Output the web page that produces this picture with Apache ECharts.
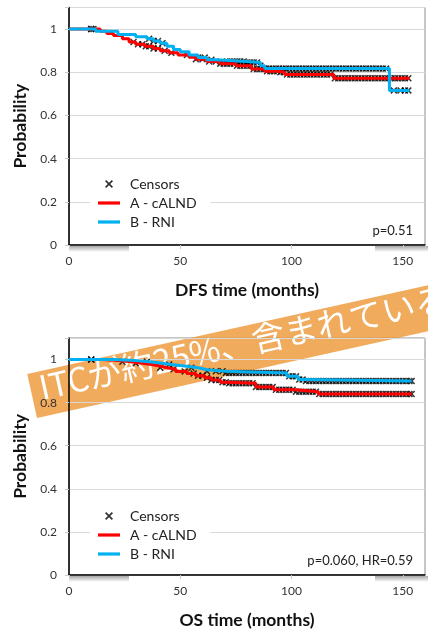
<!DOCTYPE html>
<html>
<head>
<meta charset="utf-8">
<script src="https://cdn.jsdelivr.net/npm/echarts@6/dist/echarts.min.js"></script>
<style>
html, body { margin: 0; padding: 0; background: #fff; }
#chart { width: 428px; height: 632px; }
</style>
</head>
<body>
<div id="chart"></div>
<script>
// tick labels
const xTicks = [0, 50, 100, 150];
const yTicks = [0, 0.2, 0.4, 0.6, 0.8, 1];
const legendNames = ['Censors', 'A - cALND', 'B - RNI'];
const xTitles = ['DFS time (months)', 'OS time (months)'];
const pTexts = ['p=0.51', 'p=0.060, HR=0.59'];
const bannerText = 'ITCが約25%、含まれている';

// Kaplan-Meier steps: [month, survival after drop]
const dfsA = [[0, 1], [14, 0.99], [17, 0.98], [20, 0.97], [24, 0.955], [27, 0.94], [30, 0.93], [34, 0.92], [38, 0.91], [41, 0.9], [45, 0.89], [49, 0.88], [54, 0.87], [57, 0.86], [62, 0.85], [68, 0.84], [75, 0.83], [82, 0.815], [88, 0.805], [94, 0.8], [97, 0.79], [119, 0.772], [153, 0.772]];
const dfsB = [[0, 1], [12, 0.99], [22, 0.975], [30, 0.965], [35, 0.955], [38, 0.945], [41, 0.935], [44, 0.92], [47, 0.905], [50, 0.895], [54, 0.88], [58, 0.868], [62, 0.858], [66, 0.85], [80, 0.845], [86, 0.83], [88, 0.817], [144, 0.716], [153, 0.716]];
const osA = [[0, 1], [15, 0.995], [22, 0.99], [28, 0.983], [33, 0.977], [37, 0.97], [41, 0.962], [44, 0.955], [48, 0.945], [53, 0.935], [57, 0.925], [61, 0.915], [64, 0.905], [68, 0.895], [71, 0.89], [84, 0.872], [92, 0.86], [102, 0.851], [112, 0.84], [154, 0.84]];
const osB = [[0, 1], [20, 0.995], [30, 0.99], [36, 0.985], [40, 0.977], [46, 0.97], [52, 0.962], [58, 0.953], [62, 0.946], [70, 0.938], [98, 0.922], [103, 0.907], [106, 0.9], [154, 0.9]];

// censored times (months)
const dfsCensA = [10, 29, 31, 33, 34.5, 36, 38, 40, 43, 46, 53, 57, 60, 63, 66, 68, 69.5, 71, 72.5, 74, 75.5, 77, 78.5, 80, 81.5, 83, 84.5, 86, 87.5, 89, 90.5, 92, 93.5, 95, 96.5, 98, 99.5, 101, 102.5, 104, 105.5, 107, 108.5, 110, 111.5, 113, 114.5, 116, 117.5, 119.5, 121, 122.5, 124, 125.5, 127, 128.5, 130, 131.5, 133, 134.5, 136, 137.5, 139, 140.5, 142, 143.5, 145, 146.5, 148, 149.5, 151, 152.5];
const dfsCensB = [10, 11, 36, 38, 40, 42, 58, 61, 64, 71, 72.5, 74, 75.5, 77, 78.5, 80, 81.5, 83, 84.5, 86, 88.5, 90, 91.5, 93, 94.5, 96, 97.5, 99, 100.5, 102, 103.5, 105, 106.5, 108, 109.5, 111, 112.5, 114, 115.5, 117, 118.5, 120, 121.5, 123, 124.5, 126, 127.5, 129, 130.5, 132, 133.5, 135, 136.5, 138, 139.5, 141, 142.5, 146, 149, 151, 152.5];
const osCensA = [10, 24, 30, 41, 47, 52, 56, 58, 60, 62, 64, 66, 67.5, 69, 70.5, 72, 73.5, 75, 76.5, 78, 79.5, 81, 82.5, 84, 85.5, 87, 88.5, 90, 91.5, 93, 94.5, 96, 97.5, 99, 100.5, 102, 103.5, 105, 106.5, 108, 109.5, 111, 112.5, 114, 115.5, 117, 118.5, 120, 121.5, 123, 124.5, 126, 127.5, 129, 130.5, 132, 133.5, 135, 136.5, 138, 139.5, 141, 142.5, 144, 145.5, 147, 148.5, 150, 151.5, 153, 154];
const osCensB = [10, 35, 45, 55, 62, 66, 69, 70.5, 72, 73.5, 75, 76.5, 78, 79.5, 81, 82.5, 84, 85.5, 87, 88.5, 90, 91.5, 93, 94.5, 96, 97.5, 99, 100.5, 102, 103.5, 105, 106.5, 108, 109.5, 111, 112.5, 114, 115.5, 117, 118.5, 120, 121.5, 123, 124.5, 126, 127.5, 129, 130.5, 132, 133.5, 135, 136.5, 138, 139.5, 141, 142.5, 144, 145.5, 147, 148.5, 150, 151.5, 153, 154];

const cross = 'path://M0,1.5L1.5,0L5,3.5L8.5,0L10,1.5L6.5,5L10,8.5L8.5,10L5,6.5L1.5,10L0,8.5L3.5,5Z';
const lineIcon = 'path://M0,0H22V3.2H0Z';
const redC = '#ff0000';
const blueC = '#00b0f0';
const font = 'Lato, "Open Sans", sans-serif';

function survAt(curve, t) {
  let s = curve[0][1];
  for (const p of curve) { if (p[0] <= t) s = p[1]; }
  return s;
}

const grids = [
  { left: 69, top: 7.5, width: 361.6, height: 237.5 },
  { left: 69, top: 338, width: 361.6, height: 237 }
];

function xAxis(k) {
  return {
    gridIndex: k, type: 'value', min: 0, max: 160, interval: 50,
    name: xTitles[k], nameLocation: 'middle', nameGap: 36,
    nameTextStyle: { fontFamily: font, fontWeight: 'bold', fontSize: 17.5, color: '#111' },
    axisLine: { show: true, lineStyle: { color: '#000', width: 1.5 } },
    axisTick: { show: true, length: 4, lineStyle: { color: '#c8c8c8' } },
    axisLabel: { margin: 10, fontFamily: font, fontSize: 12, color: '#333',
      formatter: v => xTicks.includes(v) ? String(v) : '' },
    splitLine: { show: false }
  };
}
function yAxis(k) {
  return {
    gridIndex: k, type: 'value', min: 0, max: 1.1, interval: 0.2,
    name: 'Probability', nameLocation: 'middle', nameGap: 39,
    nameTextStyle: { fontFamily: font, fontWeight: 'bold', fontSize: 17.5, color: '#111' },
    axisLine: { show: true, lineStyle: { color: '#000', width: 1.5 } },
    axisTick: { show: true, length: 4, lineStyle: { color: '#c8c8c8' } },
    axisLabel: { margin: 12, fontFamily: font, fontSize: 12, color: '#333',
      formatter: v => yTicks.some(t => Math.abs(t - v) < 1e-6) ? String(+v.toFixed(1)) : '' },
    splitLine: { show: true, lineStyle: { color: '#d9d9d9', width: 1 } }
  };
}

function makeSeries(k, curveA, curveB, censA, censB) {
  const marks = censA.map(t => [t, survAt(curveA, t)])
    .concat(censB.map(t => [t, survAt(curveB, t)]));
  return [
    { name: 'Censors', type: 'scatter', xAxisIndex: k, yAxisIndex: k, data: marks,
      symbol: cross, symbolSize: 7, itemStyle: { color: '#000' }, z: 2, silent: true },
    { name: 'A - cALND', type: 'line', step: 'end', xAxisIndex: k, yAxisIndex: k, data: curveA,
      symbol: 'none', lineStyle: { color: redC, width: 3 }, itemStyle: { color: redC }, z: 3 },
    { name: 'B - RNI', type: 'line', step: 'end', xAxisIndex: k, yAxisIndex: k, data: curveB,
      symbol: 'none', lineStyle: { color: blueC, width: 3 }, itemStyle: { color: blueC }, z: 4 }
  ];
}

function legend(top) {
  return {
    left: 90, top: top, orient: 'vertical', selectedMode: false,
    data: [
      { name: legendNames[0], icon: cross },
      { name: legendNames[1], icon: lineIcon, itemStyle: { color: redC } },
      { name: legendNames[2], icon: lineIcon, itemStyle: { color: blueC } }
    ],
    itemWidth: 22, itemHeight: 8, itemGap: 3,
    backgroundColor: '#fff', padding: [4, 14, 4, 8],
    textStyle: { fontFamily: font, fontSize: 14, lineHeight: 16, color: '#222', padding: [0, 0, 0, 5] }
  };
}

function shadow(x, y, w) {
  return { type: 'rect', x: x, y: y, shape: { width: w, height: 6 }, silent: true,
    style: { fill: new echarts.graphic.LinearGradient(0, 0, 0, 1, [
      { offset: 0, color: 'rgba(0,0,0,0.35)' }, { offset: 1, color: 'rgba(0,0,0,0)' }]) } };
}

let myChart = echarts.init(document.getElementById('chart'));
myChart.setOption({
  animation: false,
  backgroundColor: '#fff',
  grid: grids.map(g => Object.assign({ show: true, borderColor: '#8c8c8c', borderWidth: 1, backgroundColor: 'transparent' }, g)),
  xAxis: [xAxis(0), xAxis(1)],
  yAxis: [yAxis(0), yAxis(1)],
  legend: [legend(172), legend(504)],
  series: makeSeries(0, dfsA, dfsB, dfsCensA, dfsCensB).concat(makeSeries(1, osA, osB, osCensA, osCensB)),
  graphic: [
    shadow(69, 246, 60), shadow(375, 246, 53),
    shadow(69, 576, 60), shadow(375, 576, 53),
    { type: 'text', right: 15, top: 224, style: { text: pTexts[0], fontFamily: font, fontSize: 13, fill: '#222' } },
    { type: 'text', right: 15, top: 554, style: { text: pTexts[1], fontFamily: font, fontSize: 13, fill: '#222' } },
    { type: 'group', x: 37, y: 418, rotation: 12.5 * Math.PI / 180, z: 100, children: [
      { type: 'rect', shape: { x: 0, y: -45, width: 480, height: 45 }, style: { fill: 'rgba(238,150,52,0.8)' } },
      { type: 'text', x: 9, y: -29, style: { text: bannerText, fill: '#fff', fontSize: 33.3,
        fontFamily: '"Noto Sans CJK JP", sans-serif', verticalAlign: 'middle' } }
    ] }
  ]
});
</script>
</body>
</html>
